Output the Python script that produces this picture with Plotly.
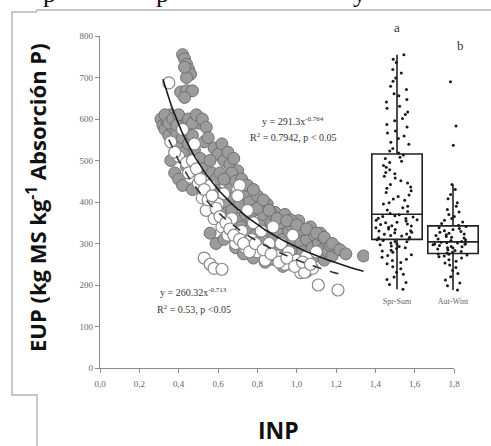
import numpy as np
import plotly.graph_objects as go

# ---------------- data ----------------
gray_x = [0.42,0.43,0.44,0.45,0.46,0.44,0.43,0.41,0.44,0.47,0.43,
          0.31,0.32,0.33,0.34,0.35,0.36,0.37,0.38,0.39,0.40,0.41,0.42,0.43,0.44,0.45,0.46,0.47,0.48,0.50,0.51,0.52,0.49,0.53,
          0.36,0.38,0.40,0.42,0.44,0.47,
          0.58,0.60,0.62,0.63,0.65,0.66,0.68,0.70,0.67,
          0.55,0.57,0.58,0.60,0.61,0.62,0.64,0.65,0.66,0.67,0.68,0.70,0.71,0.72,0.73,0.74,0.75,0.76,0.77,0.78,0.79,0.80,
          0.81,0.82,0.83,0.84,0.85,0.86,0.87,0.88,0.89,0.90,0.91,0.92,0.93,0.94,0.95,0.96,0.97,0.98,0.99,1.00,1.01,1.02,
          1.03,1.04,1.05,1.06,1.07,1.08,1.09,1.10,1.11,1.12,1.13,1.14,1.15,1.16,1.18,1.20,
          0.56,0.59,0.63,0.69,0.73,0.78,0.84,0.88,0.93,0.97,1.01,1.05,
          0.87,0.97,1.03,1.12,1.17,1.34,
          0.33,0.35,0.37,0.39,0.40,0.45,0.47,0.49,0.52,0.54,0.55,0.56,0.57,0.59,0.61,0.63,
          0.69,0.72,0.75,0.78,0.80,0.83,0.86,0.90,0.95,1.00,1.05,1.10,1.14,1.18,1.22,1.25]
gray_y = [755,745,732,720,708,700,725,665,668,668,652,
          600,585,575,595,560,610,580,545,565,530,590,555,520,575,540,500,560,525,590,505,480,470,545,
          500,470,455,440,485,430,
          530,515,540,500,520,490,505,475,470,
          420,400,440,385,420,370,400,350,430,380,410,360,395,340,420,370,330,400,355,380,320,415,
          345,300,370,330,395,290,350,310,375,330,280,350,310,370,290,330,345,305,275,320,355,300,
          280,330,310,260,340,290,320,270,300,320,285,260,305,280,270,290,
          325,300,310,290,275,265,255,262,245,250,240,232,
          373,357,333,325,296,270,
          610,590,600,585,610,600,590,610,600,580,555,500,470,455,470,455,
          450,455,440,430,385,405,380,360,355,345,335,325,315,300,285,275]

white_x = [0.35,0.36,0.40,0.42,0.44,0.46,0.48,0.50,0.38,
           0.52,0.54,0.56,0.58,0.60,0.62,0.63,0.65,0.67,0.69,0.70,0.72,0.74,0.75,0.77,0.78,0.80,
           0.82,0.84,0.86,0.88,0.90,0.92,0.94,0.96,0.98,1.00,1.02,1.05,1.08,1.10,
           0.53,0.56,0.58,0.62,0.71,0.70,
           1.04,1.11,1.21,
           0.45,0.47,0.49,0.51,0.53,0.55,0.57,0.59,0.61,0.64,0.66,0.68,0.71,0.73,0.76,0.79,
           0.83,0.87,0.91,0.95,0.99,1.03,1.07]
white_y = [687,545,510,575,495,460,540,445,520,
           410,380,440,360,395,340,420,320,360,300,430,330,290,380,310,350,280,
           330,260,300,340,270,300,250,280,320,260,230,270,240,280,
           265,250,240,238,440,415,
           231,200,188,
           470,500,480,455,430,405,415,385,365,350,335,320,310,300,280,300,
           285,275,255,265,245,255,250]

fit1 = dict(a=291.3, b=-0.764, x0=0.32, x1=1.34)
fit2 = dict(a=260.32, b=-0.713, x0=0.35, x1=1.22)

box_a = [190,201,206,213,219,226,231,239,244,251,254,259,262,267,271,273,279,282,284,288,290,293,294,297,299,301,304,305,307,309,
         311,314,315,318,319,322,323,326,327,330,331,334,335,338,339,342,343,346,347,350,351,354,356,357,360,361,364,365,367,369,
         372,377,381,386,390,395,398,404,407,413,417,423,427,433,436,442,446,451,458,462,468,471,478,484,488,495,498,505,508,513,
         518,523,529,539,544,553,559,566,571,581,587,596,601,611,617,626,631,641,647,656,661,671,679,691,699,711,719,736,744,755]
box_b = [188,198,205,212,220,228,235,242,248,253,257,261,265,268,270,272,274,275,
         277,279,281,283,285,287,289,290,292,293,295,297,298,299,300,301,302,303,
         305,307,309,311,313,315,317,319,321,323,325,327,329,331,334,336,338,341,
         344,348,352,356,360,365,370,376,382,390,398,408,418,430,442,537,583,690]
box_names = ["Spr-Sum", "Aut-Wint"]

x_tickvals = [0.0,0.2,0.4,0.6,0.8,1.0,1.2,1.4,1.6,1.8]
x_ticktext = ["0,0","0,2","0,4","0,6","0,8","1,0","1,2","1,4","1,6","1,8"]
y_tickvals = [0,100,200,300,400,500,600,700,800]

# clipped fragments of the text line above the chart
top_chars = ["p", "p", "y"]
top_chars_px = [49, 162, 359]

# ---------------- figure ----------------
W, H = 491, 446
L, R, T, B = 100, 5, 36, 78
PW, PH = W - L - R, H - T - B

def px(x):
    return (x - L) / PW

def py(y):
    return (H - B - y) / PH

serif = "Liberation Serif"
fig = go.Figure()

fig.add_trace(go.Scatter(x=gray_x, y=gray_y, mode="markers",
                         marker=dict(size=12, color="#9c9c9c", line=dict(color="#6f6f6f", width=1)),
                         showlegend=False))
fig.add_trace(go.Scatter(x=white_x, y=white_y, mode="markers",
                         marker=dict(size=12, color="white", line=dict(color="#8a8a8a", width=1.2)),
                         showlegend=False))

for f, dash, col in [(fit1, "solid", "#1a1a1a"), (fit2, "dash", "#333333")]:
    xs = np.linspace(f["x0"], f["x1"], 120)
    fig.add_trace(go.Scatter(x=xs, y=f["a"] * xs ** f["b"], mode="lines",
                             line=dict(color=col, width=1.6, dash=dash), showlegend=False))

for name, vals in zip(box_names, [box_a, box_b]):
    fig.add_trace(go.Box(x=[name] * len(vals), y=vals, xaxis="x2", yaxis="y",
                         boxpoints="all", jitter=0.85, pointpos=0, width=0.9,
                         marker=dict(size=3, color="#1a1a1a"),
                         line=dict(color="#222222", width=1.6),
                         fillcolor="rgba(255,255,255,0)", whiskerwidth=0,
                         showlegend=False))

fig.update_layout(
    width=W, height=H, autosize=False,
    margin=dict(l=L, r=R, t=T, b=B, autoexpand=False),
    plot_bgcolor="white", paper_bgcolor="white",
    hovermode=False,
    xaxis=dict(domain=[0, 354 / PW], range=[0, 1.8], tickvals=x_tickvals, ticktext=x_ticktext,
               automargin=False,
               showgrid=False, zeroline=False, showline=True, linecolor="#8c8c8c", linewidth=1.2,
               ticks="outside", ticklen=4, tickcolor="#8c8c8c", ticklabelstandoff=3,
               tickfont=dict(family=serif, size=9, color="#666666")),
    xaxis2=dict(domain=[px(369), px(481)], anchor="free", position=py(295),
                type="category", categoryorder="array", categoryarray=box_names,
                range=[-0.5, 1.5], automargin=False,
                showgrid=False, zeroline=False, showline=False, ticks="",
                tickfont=dict(family=serif, size=8, color="#666666")),
    yaxis=dict(range=[0, 800], tickvals=y_tickvals, showgrid=False, zeroline=False,
               automargin=False,
               showline=True, linecolor="#8c8c8c", linewidth=1.2,
               ticks="outside", ticklen=4, tickcolor="#8c8c8c",
               tickfont=dict(family=serif, size=9, color="#666666")),
)

ann = [
    dict(x=px(293), y=py(121), text="y = 291.3x<sup>-0.764</sup>", size=10),
    dict(x=px(293), y=py(137), text="R<sup>2</sup> = 0.7942, p < 0.05", size=10),
    dict(x=px(193), y=py(292), text="y = 260.32x<sup>-0.713</sup>", size=10),
    dict(x=px(194), y=py(309), text="R<sup>2</sup> = 0.53, p <0.05", size=10),
    dict(x=px(397), y=py(28), text="a", size=13),
    dict(x=px(460), y=py(45), text="b", size=13),
]
for a in ann:
    fig.add_annotation(x=a["x"], y=a["y"], xref="paper", yref="paper", text=a["text"],
                       showarrow=False, xanchor="center", yanchor="middle",
                       font=dict(family=serif, size=a["size"], color="#333333"))

for ch, cx in zip(top_chars, top_chars_px):
    fig.add_annotation(x=px(cx), y=py(9), xref="paper", yref="paper", text=ch,
                       showarrow=False, xanchor="center", yanchor="bottom", borderpad=0,
                       font=dict(family=serif, size=26, color="#111111"))

fig.add_annotation(x=px(36), y=py(198), xref="paper", yref="paper", textangle=-90,
                   text="<b>EUP (kg MS kg<sup>-1</sup> Absorción P)</b>", showarrow=False,
                   xanchor="center", yanchor="middle",
                   font=dict(family="Open Sans", size=22, color="#111111"))
fig.add_annotation(x=px(278), y=py(430), xref="paper", yref="paper",
                   text="<b>INP</b>", showarrow=False, xanchor="center", yanchor="middle",
                   font=dict(family="Open Sans", size=23, color="#111111"))

frame = [(37, 446), (37, 395), (12, 395), (12, 12), (36, 12), (37, 10), (491, 10)]
path = "M " + " L ".join(f"{px(a):.4f},{py(b):.4f}" for a, b in frame)
fig.add_shape(type="path", path=path, xref="paper", yref="paper",
              line=dict(color="#b5b5b5", width=1.5))

fig.write_html("out.html",
               config={"displayModeBar": False, "responsive": False, "staticPlot": True},
               post_script="document.body.style.margin='0';document.body.style.overflow='hidden';"
                           "document.documentElement.style.overflow='hidden';")
